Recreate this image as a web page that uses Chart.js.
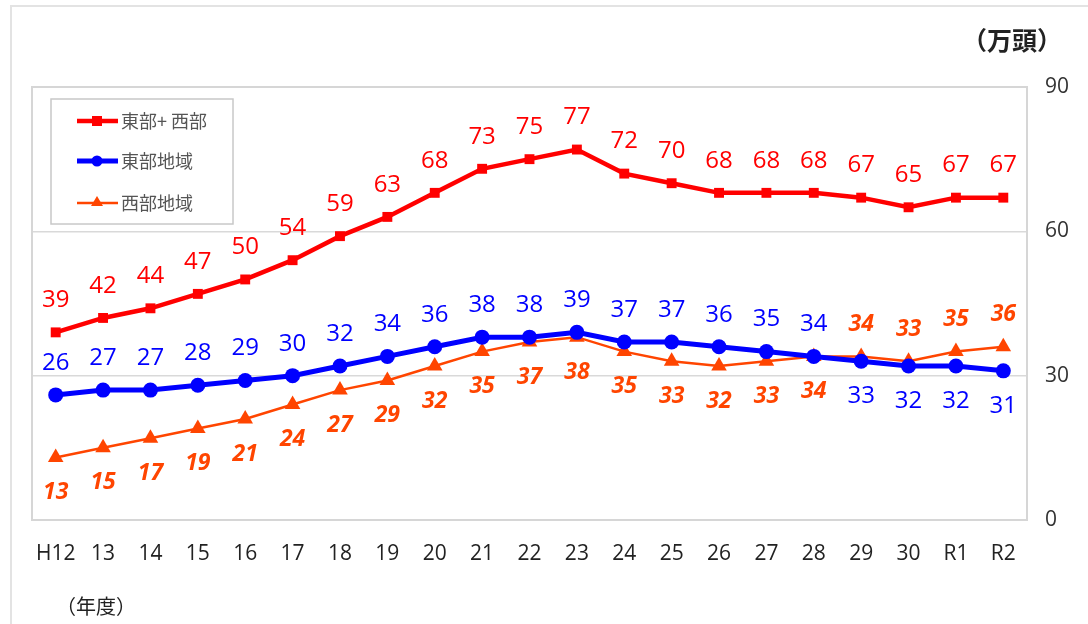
<!DOCTYPE html>
<html>
<head>
<meta charset="utf-8">
<script src="https://cdn.jsdelivr.net/npm/chart.js@4"></script>
<style>
  body { margin: 0; background: #fff; }
  #wrap { position: relative; width: 1088px; height: 624px; overflow: hidden; }
  #frame { position: absolute; left: 10px; top: 5px; width: 1100px; height: 700px;
           border-left: 2px solid #e3e3e3; border-top: 2px solid #e3e3e3; }
  canvas { position: absolute; left: 0; top: 0; }
  .note { position: absolute; font-family: "Noto Sans CJK JP", sans-serif; color: #222; line-height: 1; }
</style>
</head>
<body>
<div id="wrap">
  <div id="frame"></div>
  <canvas id="chart" width="1088" height="624"></canvas>
  <div class="note" style="left:962px; top:27px; font-size:25px; font-weight:bold;">（万頭）</div>
  <div class="note" style="left:56px; top:596px; font-size:20px;">（年度）</div>
</div>
<script>
const years = ['H12', '13', '14', '15', '16', '17', '18', '19', '20', '21', '22', '23', '24', '25', '26', '27', '28', '29', '30', 'R1', 'R2'];
const total = [39, 42, 44, 47, 50, 54, 59, 63, 68, 73, 75, 77, 72, 70, 68, 68, 68, 67, 65, 67, 67];
const east = [26, 27, 27, 28, 29, 30, 32, 34, 36, 38, 38, 39, 37, 37, 36, 35, 34, 33, 32, 32, 31];
const west = [13, 15, 17, 19, 21, 24, 27, 29, 32, 35, 37, 38, 35, 33, 32, 33, 34, 34, 33, 35, 36];
const yTicks = [0, 30, 60, 90];

const RED = '#ff0000';
const BLUE = '#0000ff';
const ORANGE = '#ff4500';

// 枠線と凡例
const framePlugin = {
    id: 'frame',
    beforeDatasetsDraw(chart) {
        const a = chart.chartArea;
        const ctx = chart.ctx;
        ctx.save();
        ctx.strokeStyle = '#d6d6d6';
        ctx.lineWidth = 2;
        ctx.strokeRect(a.left, a.top, a.right - a.left, a.bottom - a.top);
        ctx.restore();
    },
    afterDraw(chart) {
        const ctx = chart.ctx;
        ctx.save();
        ctx.strokeStyle = '#c8c8c8';
        ctx.lineWidth = 1.5;
        ctx.fillStyle = '#fff';
        ctx.fillRect(51, 99, 182, 125);
        ctx.strokeRect(51, 99, 182, 125);
        const rows = [121, 161, 203];
        chart.data.datasets.forEach((ds, i) => {
            const y = rows[i];
            ctx.strokeStyle = ds.borderColor;
            ctx.lineWidth = ds.borderWidth;
            ctx.beginPath();
            ctx.moveTo(77, y);
            ctx.lineTo(118, y);
            ctx.stroke();
            ctx.fillStyle = ds.borderColor;
            if (ds.pointStyle === 'rect') {
                ctx.fillRect(92, y - 5, 10, 10);
            } else if (ds.pointStyle === 'circle') {
                ctx.beginPath();
                ctx.arc(97, y, 5.5, 0, Math.PI * 2);
                ctx.fill();
            } else {
                ctx.beginPath();
                ctx.moveTo(97, y - 7);
                ctx.lineTo(103, y + 3);
                ctx.lineTo(91, y + 3);
                ctx.closePath();
                ctx.fill();
            }
            ctx.fillStyle = '#555';
            ctx.font = '18px "Noto Sans CJK JP"';
            ctx.textBaseline = 'middle';
            ctx.fillText(ds.label, 121, y);
        });
        ctx.restore();
    }
};

// 数値ラベル
const labelPlugin = {
    id: 'valueLabels',
    afterDatasetsDraw(chart) {
        const ctx = chart.ctx;
        ctx.save();
        ctx.textAlign = 'center';
        ctx.textBaseline = 'middle';
        chart.data.datasets.forEach((ds, di) => {
            const meta = chart.getDatasetMeta(di);
            meta.data.forEach((pt, i) => {
                let above = true;
                if (di === 1) above = !(east[i] < west[i]);
                if (di === 2) above = west[i] > east[i];
                ctx.fillStyle = ds.borderColor;
                ctx.font = di === 2 ? 'italic bold 23px "Open Sans"' : '24px "Open Sans"';
                const y = above ? pt.y - 32 : pt.y + 35;
                ctx.fillText(ds.data[i], pt.x, y);
            });
        });
        ctx.restore();
    }
};

new Chart(document.getElementById('chart'), {
    type: 'line',
    data: {
        labels: years,
        datasets: [
            {
                label: '東部+ 西部',
                data: total,
                borderColor: RED,
                backgroundColor: RED,
                borderWidth: 4.5,
                pointStyle: 'rect',
                pointRadius: 7,
                pointBorderWidth: 0
            },
            {
                label: '東部地域',
                data: east,
                borderColor: BLUE,
                backgroundColor: BLUE,
                borderWidth: 5,
                pointStyle: 'circle',
                pointRadius: 7.5,
                pointBorderWidth: 0
            },
            {
                label: '西部地域',
                data: west,
                borderColor: ORANGE,
                backgroundColor: ORANGE,
                borderWidth: 2.5,
                pointStyle: 'triangle',
                pointRadius: 9,
                pointBorderWidth: 0
            }
        ]
    },
    options: {
        responsive: false,
        animation: false,
        layout: { padding: { top: 87, left: 32, right: 0, bottom: 0 } },
        plugins: {
            legend: { display: false },
            tooltip: { enabled: false }
        },
        scales: {
            x: {
                offset: true,
                grid: { display: false, drawTicks: false },
                border: { display: false },
                ticks: {
                    padding: 21,
                    color: '#222',
                    font: { family: 'Open Sans', size: 21 },
                    maxRotation: 0,
                    autoSkip: false
                },
                afterFit(scale) { scale.height = 104; }
            },
            y: {
                position: 'right',
                min: 0,
                max: 90,
                afterBuildTicks(scale) { scale.ticks = yTicks.map(v => ({ value: v })); },
                grid: { color: '#d9d9d9', lineWidth: 1.5, drawTicks: false },
                border: { display: false },
                ticks: {
                    crossAlign: 'near',
                    padding: 18,
                    color: '#333',
                    font: { family: 'Open Sans', size: 21 }
                },
                afterFit(scale) { scale.width = 61; }
            }
        }
    },
    plugins: [framePlugin, labelPlugin]
});
</script>
</body>
</html>
